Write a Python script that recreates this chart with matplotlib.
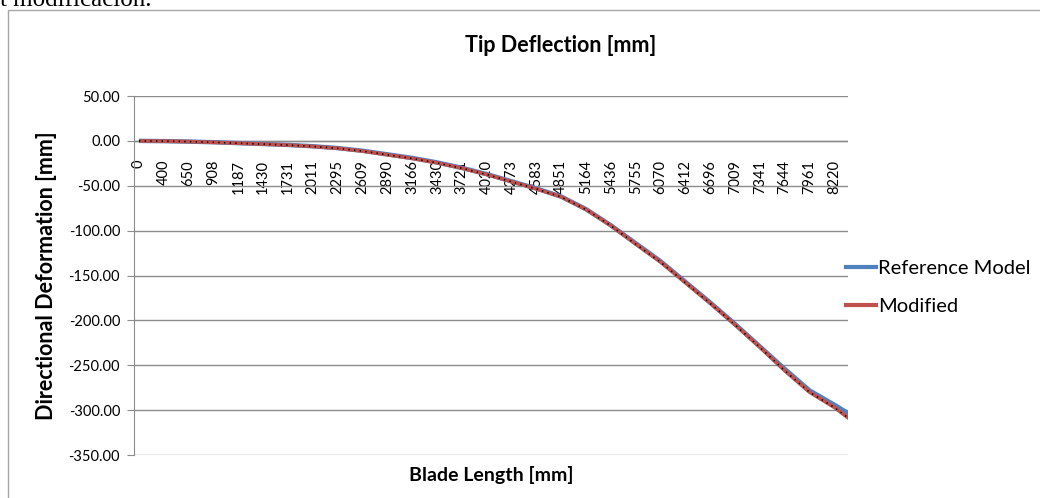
import matplotlib.pyplot as plt
from matplotlib.patches import Rectangle
from matplotlib.lines import Line2D

# blade length categories shown on the axis (Excel category axis)
blade_length = [0, 400, 650, 908, 1187, 1430, 1731, 2011, 2295, 2609, 2890, 3166,
                3430, 3721, 4020, 4273, 4583, 4851, 5164, 5436, 5755, 6070, 6412,
                6696, 7009, 7341, 7644, 7961, 8220, 8400]
tick_labels = [str(v) for v in blade_length[:-1]]

# tip deflection [mm]
reference_model = [0, -0.3, -0.8, -1.5, -2.5, -3.5, -4.5, -6, -8, -11, -15, -19,
                   -24, -30, -37, -45, -53, -62, -76, -94, -114, -134, -157,
                   -180, -204, -229, -254, -278, -294, -311]
modified = [0, -0.3, -0.8, -1.6, -2.6, -3.6, -4.7, -6.2, -8.3, -11.4, -15.5, -19.6,
            -24.5, -30.5, -37.5, -45.5, -53.5, -62.5, -76.5, -94.5, -115, -135, -158,
            -181, -205, -230, -256, -280, -297, -318]

x = list(range(len(blade_length)))

fig = plt.figure(figsize=(10.4, 4.98), dpi=100)
plt.rcParams['font.family'] = ['Lato', 'DejaVu Sans']

# outer chart border
fig.patches.append(Rectangle((8 / 1040, -0.1), 1.2, 1 - 10 / 498 + 0.1,
                             transform=fig.transFigure, fill=False,
                             edgecolor='#a6a6a6', lw=1.0))
# cropped document text above the chart
fig.text(0.0, 1 - 6 / 498, "t modificación.", family='Liberation Serif',
         fontsize=18, va='baseline', ha='left')

ax = fig.add_axes([134 / 1040, 1 - 455 / 498, (848 - 134) / 1040, (455 - 96) / 498])

ax.plot(x, reference_model, color='#4F81BD', lw=3.2, solid_capstyle='butt', zorder=3)
ax.plot(x, modified, color='#C0504D', lw=2.6, solid_capstyle='butt', zorder=4)
ax.plot(x, modified, color='black', lw=1.2, ls=(0, (0.8, 2.6)), zorder=5)

ax.set_ylim(-350, 50)
ax.set_yticks(range(-350, 51, 50))
ax.set_yticklabels([f"{v:.2f}" for v in range(-350, 51, 50)], fontsize=10.5)
ax.set_xlim(-0.2, len(x) - 1.45)
ax.set_xticks(x[:-1])
ax.set_xticklabels(tick_labels, rotation=90, fontsize=10.5, va='top')

ax.grid(axis='y', color='#8c8c8c', lw=1.0)
ax.set_axisbelow(True)
for s in ['top', 'right', 'bottom']:
    ax.spines[s].set_visible(False)
ax.spines['left'].set_color('#8c8c8c')
ax.axhline(0, color='#8c8c8c', lw=1.0, zorder=1)
ax.tick_params(axis='y', length=5, color='#8c8c8c', pad=5)
ax.tick_params(axis='x', length=0, pad=0)
# put the category labels just under the zero line
for lbl in ax.get_xticklabels():
    lbl.set_y(0.822)

# title is centred on the whole chart area, not on the plot area
fig.text(561 / 1040, 1 - 46 / 498, "Tip Deflection [mm]", fontsize=15.5,
         fontweight='bold', ha='center', va='center')
ax.set_xlabel("Blade Length [mm]", fontsize=14, fontweight='bold', labelpad=8)
ax.set_ylabel("Directional Deformation [mm]", fontsize=15.5, fontweight='bold', labelpad=8)

handles = [Line2D([], [], color='#4F81BD', lw=3),
           Line2D([], [], color='#C0504D', lw=3)]
fig.legend(handles, ["Reference Model", "Modified"], loc='upper left',
           bbox_to_anchor=(828 / 1040, 1 - 242 / 498), frameon=False,
           fontsize=14.5, handlelength=1.5, handletextpad=0.1, labelspacing=1.05)

fig.savefig("out.png", dpi=100)
